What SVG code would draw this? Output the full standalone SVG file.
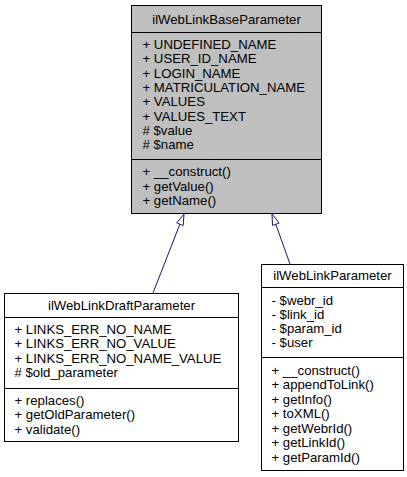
<svg xmlns="http://www.w3.org/2000/svg" width="407" height="477" viewBox="0 0 407 477">
<style>
text{font-family:"Liberation Sans",Arial,sans-serif;font-size:13.2px;fill:#000}
.c{text-anchor:middle}
.box{stroke:#000;stroke-width:1}
.sep{stroke:#000;stroke-width:1}
.edge{stroke:#191970;stroke-width:1;fill:none}
.head{stroke:#191970;stroke-width:1;fill:#fff}
</style>
<rect width="407" height="477" fill="#fff"/>
<g id="connectors">
<path class="edge" d="M153,293 L179.9,224.2"/>
<polygon class="head" points="184,214 183.2,225.5 176.7,222.9"/>
<path class="edge" d="M290,264 L275.8,224.3"/>
<polygon class="head" points="272,214 279.1,223.1 272.5,225.5"/>
</g>
<g id="ilWebLinkBaseParameter">
<rect class="box" x="131.5" y="5.5" width="190" height="208" fill="#bfbfbf"/>
<line class="sep" x1="131.5" y1="32.5" x2="321.5" y2="32.5"/>
<line class="sep" x1="131.5" y1="159.5" x2="321.5" y2="159.5"/>
<text class="c" x="226.5" y="24">ilWebLinkBaseParameter</text>
<text x="142.5" y="49">+ UNDEFINED_NAME</text>
<text x="142.5" y="63.3">+ USER_ID_NAME</text>
<text x="142.5" y="77.6">+ LOGIN_NAME</text>
<text x="142.5" y="91.9">+ MATRICULATION_NAME</text>
<text x="142.5" y="106.2">+ VALUES</text>
<text x="142.5" y="120.5">+ VALUES_TEXT</text>
<text x="142.5" y="134.8"># $value</text>
<text x="142.5" y="149.1"># $name</text>
<text x="142.5" y="176">+ __construct()</text>
<text x="142.5" y="190.5">+ getValue()</text>
<text x="142.5" y="205">+ getName()</text>
</g>
<g id="ilWebLinkDraftParameter">
<rect class="box" x="4.5" y="293.5" width="234" height="148" fill="#fff"/>
<line class="sep" x1="4.5" y1="317.5" x2="238.5" y2="317.5"/>
<line class="sep" x1="4.5" y1="388.5" x2="238.5" y2="388.5"/>
<text class="c" x="121.5" y="310">ilWebLinkDraftParameter</text>
<text x="14.5" y="334">+ LINKS_ERR_NO_NAME</text>
<text x="14.5" y="348.3">+ LINKS_ERR_NO_VALUE</text>
<text x="14.5" y="362.6">+ LINKS_ERR_NO_NAME_VALUE</text>
<text x="14.5" y="376.9"># $old_parameter</text>
<text x="14.5" y="404.5">+ replaces()</text>
<text x="14.5" y="419">+ getOldParameter()</text>
<text x="14.5" y="433.5">+ validate()</text>
</g>
<g id="ilWebLinkParameter">
<rect class="box" x="261.5" y="264.5" width="142" height="206" fill="#fff"/>
<line class="sep" x1="261.5" y1="287.5" x2="403.5" y2="287.5"/>
<line class="sep" x1="261.5" y1="357.5" x2="403.5" y2="357.5"/>
<text class="c" x="332.5" y="280">ilWebLinkParameter</text>
<text x="271.5" y="304.5">- $webr_id</text>
<text x="271.5" y="318.8">- $link_id</text>
<text x="271.5" y="333.1">- $param_id</text>
<text x="271.5" y="347.4">- $user</text>
<text x="271.5" y="374.5">+ __construct()</text>
<text x="271.5" y="389">+ appendToLink()</text>
<text x="271.5" y="403.5">+ getInfo()</text>
<text x="271.5" y="418">+ toXML()</text>
<text x="271.5" y="432.5">+ getWebrId()</text>
<text x="271.5" y="447">+ getLinkId()</text>
<text x="271.5" y="461.5">+ getParamId()</text>
</g>
</svg>
